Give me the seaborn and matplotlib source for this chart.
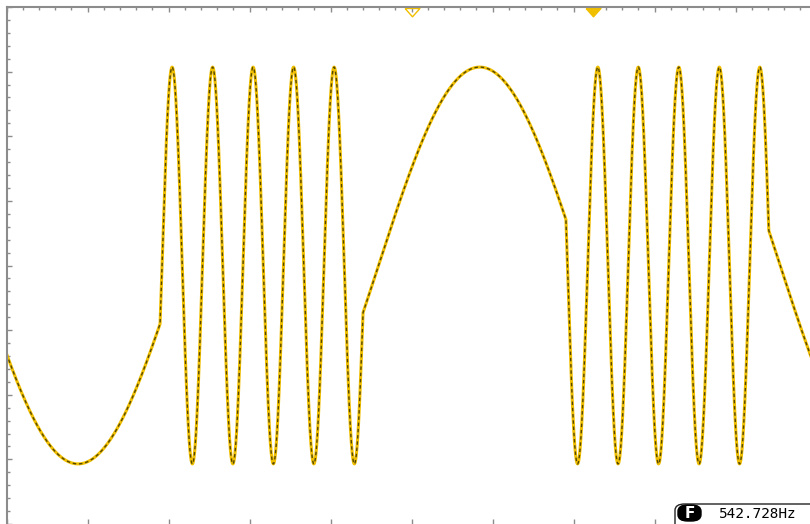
import numpy as np
import pandas as pd
import matplotlib
matplotlib.use("Agg")
import matplotlib.pyplot as plt
import seaborn as sns
from matplotlib.patches import FancyBboxPatch
from matplotlib.ticker import MultipleLocator

# FSK trace (time and volts in divisions)
seg_start = [0.0, 1.895, 4.40, 6.905, 9.41]     # where each bit begins
seg_freq = [0.2, 2.0, 0.2, 2.0, 0.2]            # cycles per division
amplitude = 3.07
start_phase = -1.11
trigger_pos = 5.0
cursor_pos = 7.24
freq_label = "542.728Hz"

YELLOW = "#f0bf00"
GRID = "#8c8c8c"

# phase-continuous trace
t = np.linspace(0, 10.2, 6000)
f = np.array(seg_freq)[np.searchsorted(seg_start, t, side="right") - 1]
phase = start_phase + 2 * np.pi * np.concatenate([[0], np.cumsum(f[:-1] * np.diff(t))])
df = pd.DataFrame({"t": t, "v": -amplitude * np.cos(phase)})

sns.set_style("white")
fig = plt.figure(figsize=(8.1, 5.24), dpi=100)
ax = fig.add_axes([6.5 / 810, 0, 1.0, 517 / 524])

sns.lineplot(data=df, x="t", y="v", ax=ax, color=YELLOW, lw=2.2, sort=False, estimator=None)
sns.lineplot(data=df, x="t", y="v", ax=ax, color="#2e2900", lw=1.0, sort=False,
             estimator=None, alpha=0.8, linestyle=(0, (2.5, 2)))

ax.set_xlim(0, 10)
ax.set_ylim(-4, 4)
ax.set_xlabel("")
ax.set_ylabel("")
for side in ["right", "bottom"]:
    ax.spines[side].set_visible(False)
for side in ["left", "top"]:
    ax.spines[side].set_color(GRID)
    ax.spines[side].set_linewidth(1.5)

ax.xaxis.set_major_locator(MultipleLocator(1))
ax.xaxis.set_minor_locator(MultipleLocator(0.2))
ax.yaxis.set_major_locator(MultipleLocator(1))
ax.yaxis.set_minor_locator(MultipleLocator(0.2))
ax.tick_params(which="both", direction="in", color=GRID, width=1,
               top=True, bottom=True, left=True, right=False,
               labelbottom=False, labelleft=False)
ax.tick_params(which="major", length=3.5)
ax.tick_params(which="minor", length=2, bottom=False)

# trigger markers on the top edge (wide, flat triangles)
tri = [(-8, 0), (8, 0), (0, -9), (-8, 0)]
ytop = 1 - 1 / 517
ax.plot([trigger_pos], [ytop], marker=tri, ms=12, mfc="none", mec=YELLOW, mew=1,
        transform=ax.get_xaxis_transform(), clip_on=False)
ax.plot([cursor_pos], [ytop], marker=tri, ms=12, mfc=YELLOW, mec=YELLOW,
        transform=ax.get_xaxis_transform(), clip_on=False)

# frequency counter readout
W, H = 810, 524
fig.patches.append(FancyBboxPatch((675 / W, -0.05), 160 / W, (H - 504) / H + 0.05,
                                  boxstyle="round,pad=0,rounding_size=0.012",
                                  transform=fig.transFigure, fc="white", ec="#222222", lw=1))
fig.patches.append(FancyBboxPatch((678 / W, 1 - 521 / H), 23 / W, 16 / H,
                                  boxstyle="round,pad=0,rounding_size=0.012",
                                  transform=fig.transFigure, fc="black", ec="black", lw=1))
fig.text(689.5 / W, 1 - 513.5 / H, "F", color="white", fontsize=11, fontweight="bold",
         ha="center", va="center", family="DejaVu Sans")
fig.text(719 / W, 1 - 513.5 / H, freq_label, color="black", fontsize=10.4,
         ha="left", va="center", family="DejaVu Sans Mono")

fig.savefig("out.png", dpi=100)
